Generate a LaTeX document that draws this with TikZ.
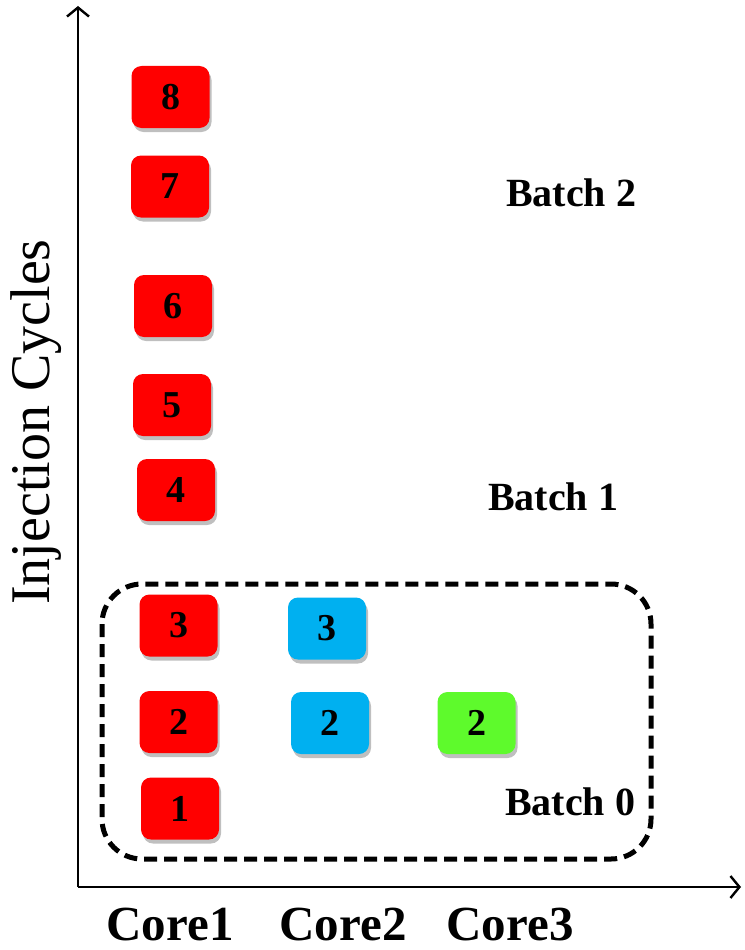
\documentclass[tikz,border=0pt]{standalone}
\usepackage{fontspec}
\setmainfont{Liberation Serif}
\usepackage{xcolor}
\usetikzlibrary{arrows.meta}
\usetikzlibrary{shadows}

\definecolor{corered}{RGB}{255,0,0}
\definecolor{coreblue}{RGB}{0,176,240}
\definecolor{coregreen}{RGB}{94,250,44}

\tikzset{
  flit/.style={draw=none, rounded corners=10pt, minimum width=78pt, minimum height=62pt,
    inner sep=0pt, font=\bfseries\fontsize{38}{40}\selectfont,
    drop shadow={shadow xshift=2pt, shadow yshift=-4pt, opacity=0.25, fill=black}},
  batch/.style={font=\bfseries\fontsize{40}{42}\selectfont},
  core/.style={font=\bfseries\fontsize{49}{52}\selectfont},
  axis/.style={line width=2.4pt, -{Straight Barb[length=9pt,width=22pt,line width=2.4pt]}}
}

\begin{document}
\begin{tikzpicture}[x=1pt,y=-1pt]
  \useasboundingbox (0,0) rectangle (744,950);

  % axes
  \coordinate (origin) at (78,887);
  \coordinate (ytop) at (78,6);
  \coordinate (xend) at (741,887);
  \draw [axis] (origin) -- (ytop);
  \draw [axis] (origin) -- (xend);
  \node [rotate=90, font=\fontsize{56}{58}\selectfont] (ylabel) at (36,422) {Injection Cycles};

  % batch 0 frame
  \draw [dashed, line width=5pt, dash pattern=on 13pt off 7pt, rounded corners=40pt]
    (102,584) rectangle (651,859);

  % core 1
  \node [flit, fill=corered] (c1f8) at (170.5,97) {8};
  \node [flit, fill=corered] (c1f7) at (170,186.5) {7};
  \node [flit, fill=corered] (c1f6) at (173,306) {6};
  \node [flit, fill=corered] (c1f5) at (172,405) {5};
  \node [flit, fill=corered] (c1f4) at (176,490) {4};
  \node [flit, fill=corered] (c1f3) at (178.5,625.5) {3};
  \node [flit, fill=corered] (c1f2) at (178.5,722) {2};
  \node [flit, fill=corered] (c1f1) at (180,808.5) {1};

  % core 2 and core 3
  \node [flit, fill=coreblue] (c2f3) at (327,628.5) {3};
  \node [flit, fill=coreblue] (c2f2) at (330,723) {2};
  \node [flit, fill=coregreen] (c3f2) at (476.5,723) {2};

  % batch labels
  \node [batch] (b2) at (571,193) {Batch 2};
  \node [batch] (b1) at (553,497) {Batch 1};
  \node [batch] (b0) at (570,802) {Batch 0};

  % core labels
  \node [core] (core1) at (170,925) {Core1};
  \node [core] (core2) at (343,925) {Core2};
  \node [core] (core3) at (510,925) {Core3};
\end{tikzpicture}
\end{document}
